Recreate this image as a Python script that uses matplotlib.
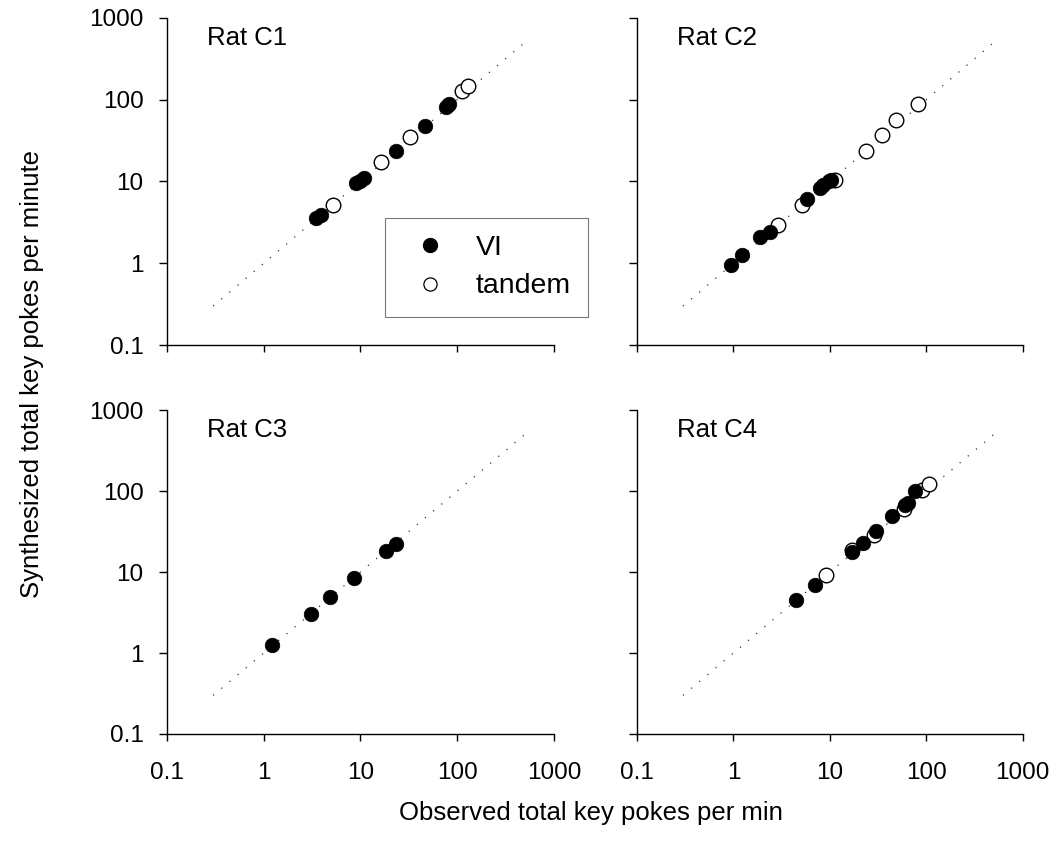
import matplotlib
matplotlib.use("Agg")
import matplotlib.pyplot as plt
from matplotlib.lines import Line2D
from matplotlib.ticker import FixedLocator, FixedFormatter

plt.rcParams.update({
    "font.family": ["Liberation Sans", "DejaVu Sans"],
    "axes.linewidth": 1.0,
    "xtick.major.size": 5,
    "ytick.major.size": 6,
    "xtick.major.width": 1.0,
    "ytick.major.width": 1.0,
    "xtick.labelsize": 17.5,
    "ytick.labelsize": 17.5,
})

# observed (x) vs synthesized (y) rates, per rat and schedule
c1_vi_obs = [3.5, 3.95, 9.1, 9.8, 10.9, 23.2, 46.4, 76, 80, 83]
c1_vi_syn = [3.56, 3.9, 9.7, 10.2, 11.0, 23.3, 47, 81, 85, 89]
c1_tan_obs = [5.2, 16.5, 32.9, 113, 130]
c1_tan_syn = [5.2, 17.1, 34.9, 126, 148]

c2_vi_obs = [0.94, 1.22, 1.89, 2.39, 5.8, 7.9, 8.4, 9.8, 10.2]
c2_vi_syn = [0.94, 1.26, 2.12, 2.38, 6.1, 8.3, 9.0, 10.0, 10.4]
c2_tan_obs = [2.88, 5.1, 11.3, 23.5, 35, 48, 82]
c2_tan_syn = [2.94, 5.1, 10.5, 23.8, 37, 57, 89]

c3_vi_obs = [1.23, 3.11, 4.8, 8.5, 18.3, 23.2]
c3_vi_syn = [1.27, 3.03, 4.9, 8.4, 18.0, 22.4]
c3_tan_obs = []
c3_tan_syn = []

c4_vi_obs = [4.45, 7.0, 17.1, 22.1, 30.4, 44.5, 60, 64.6, 76]
c4_vi_syn = [4.5, 7.0, 17.5, 22.8, 31.8, 48.6, 68, 72, 99]
c4_tan_obs = [9.1, 17.0, 28.8, 58.7, 91, 107]
c4_tan_syn = [9.3, 18.8, 28.9, 60, 103, 124]

rats = ["Rat C1", "Rat C2", "Rat C3", "Rat C4"]
vi_obs = [c1_vi_obs, c2_vi_obs, c3_vi_obs, c4_vi_obs]
vi_syn = [c1_vi_syn, c2_vi_syn, c3_vi_syn, c4_vi_syn]
tan_obs = [c1_tan_obs, c2_tan_obs, c3_tan_obs, c4_tan_obs]
tan_syn = [c1_tan_syn, c2_tan_syn, c3_tan_syn, c4_tan_syn]

unity = [0.3, 550]
ticks = [0.1, 1, 10, 100, 1000]
tick_labels = ["0.1", "1", "10", "100", "1000"]

fig = plt.figure(figsize=(10.57, 8.5), dpi=100)
boxes = [
    [0.158, 0.594, 0.366, 0.385],
    [0.6026, 0.594, 0.365, 0.385],
    [0.158, 0.1365, 0.366, 0.381],
    [0.6026, 0.1365, 0.365, 0.381],
]

for i, box in enumerate(boxes):
    ax = fig.add_axes(box)
    ax.set_xscale("log")
    ax.set_yscale("log")
    ax.set_xlim(0.1, 1000)
    ax.set_ylim(0.1, 1000)
    ax.plot(unity, unity, color="#333333", lw=0.9, ls=(0, (1, 7.5)), zorder=1)
    ax.scatter(tan_obs[i], tan_syn[i], s=110, facecolor="white",
               edgecolor="black", linewidth=1.0, zorder=2)
    ax.scatter(vi_obs[i], vi_syn[i], s=110, facecolor="black",
               edgecolor="black", linewidth=0.5, zorder=3)
    for side in ("top", "right"):
        ax.spines[side].set_visible(False)
    ax.xaxis.set_major_locator(FixedLocator(ticks))
    ax.yaxis.set_major_locator(FixedLocator(ticks))
    ax.xaxis.set_minor_locator(FixedLocator([]))
    ax.yaxis.set_minor_locator(FixedLocator([]))
    ax.xaxis.set_major_formatter(FixedFormatter(tick_labels))
    ax.yaxis.set_major_formatter(FixedFormatter(tick_labels))
    ax.tick_params(axis="x", pad=15)
    ax.tick_params(axis="y", pad=11)
    if i % 2 == 1:
        ax.tick_params(axis="y", labelleft=False)
    if i < 2:
        ax.tick_params(axis="x", labelbottom=False)
    ax.text(0.103, 0.975, rats[i], transform=ax.transAxes,
            fontsize=18.5, va="top", ha="left")

handles = [
    Line2D([], [], ls="none", marker="o", markersize=10,
           markerfacecolor="black", markeredgecolor="black"),
    Line2D([], [], ls="none", marker="o", markersize=9.5,
           markerfacecolor="white", markeredgecolor="black", markeredgewidth=0.9),
]
leg = fig.legend(handles, ["VI", "tandem"], loc="upper left",
                 bbox_to_anchor=(0.364, 0.744), fontsize=20.5,
                 frameon=True, fancybox=False, borderpad=0.6,
                 handletextpad=0.6, labelspacing=0.45, borderaxespad=0,
                 handlelength=2.0)
leg.get_frame().set_edgecolor("#555555")
leg.get_frame().set_linewidth(0.8)

fig.text(0.559, 0.043, "Observed total key pokes per min", fontsize=18.5,
         ha="center", va="center")
fig.text(0.03, 0.56, "Synthesized total key pokes per minute", fontsize=18.5,
         ha="center", va="center", rotation=90)

fig.savefig("out.png", dpi=100)
